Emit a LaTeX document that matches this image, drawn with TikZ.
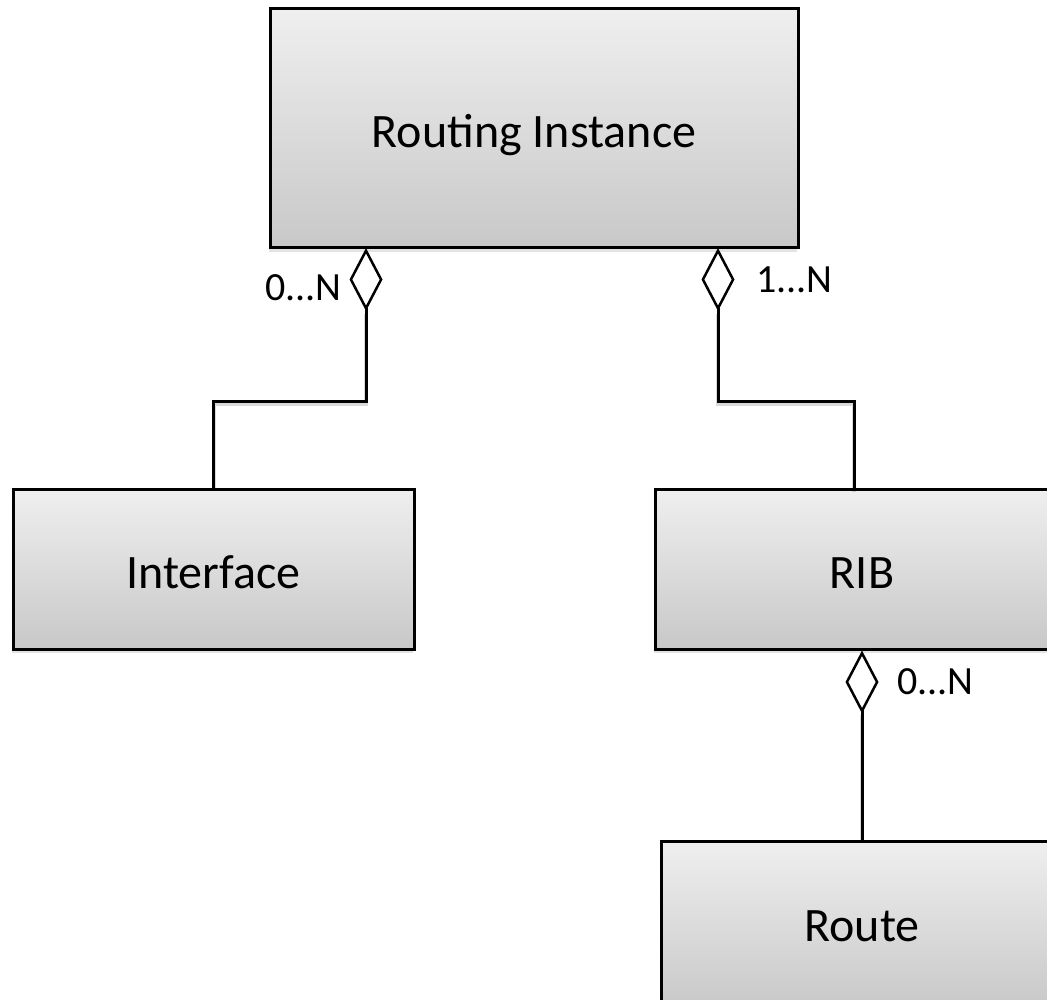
\documentclass[tikz,border=0pt]{standalone}
\usepackage{fontspec}
\setmainfont{Carlito}
\usetikzlibrary{arrows.meta,shadows}
\definecolor{gtop}{HTML}{EFEFEF}
\definecolor{gbot}{HTML}{C8C8C8}
\newcommand\captxt[2]{\raisebox{#1}[0pt][0pt]{#2}}
\begin{document}
\begin{tikzpicture}[x=1pt,y=-1pt,
  cls/.style={draw=black, line width=3pt, rectangle, inner sep=0pt,
    top color=gtop, bottom color=gbot,
    drop shadow={opacity=0.22, shadow xshift=-1pt, shadow yshift=-4pt},
    font=\fontsize{48}{58}\selectfont},
  conn/.style={draw=black, line width=3pt},
  connshadow/.style={draw=black, opacity=0.15, line width=4pt},
  agg/.style={conn, {Diamond[open, fill=white, length=63pt, width=33pt, line width=2.5pt]}-},
  mult/.style={font=\fontsize{40}{48}\selectfont, inner sep=0pt}]
\useasboundingbox (0,0) rectangle (1047,1000);
\clip (0,0) rectangle (1047,1000);
\fill[white] (0,0) rectangle (1047,1000);

\node[cls, minimum width=528pt, minimum height=239pt] (ri) at (534,128.5) {\captxt{-19.5pt}{Routing Instance}};
\node[cls, minimum width=401pt, minimum height=160pt] (ifc) at (213.5,569) {\captxt{-19pt}{Interface}};
\node[cls, minimum width=414pt, minimum height=160pt] (rib) at (862,569) {\captxt{-19.5pt}{RIB}};
\node[cls, minimum width=402pt, minimum height=168pt] (route) at (862,925) {\captxt{-16pt}{Route}};

\coordinate (ri1) at (366,248);
\coordinate (ri2) at (718,248);
\coordinate (d1) at (366,311);
\coordinate (d2) at (718,311);
\coordinate (d3) at (862,712);
\coordinate (b1) at (366,401);
\coordinate (b2) at (718,401);
\coordinate (rib1) at (854,489);

\begin{scope}[transform canvas={yshift=-3pt}]
\draw[connshadow] (d1) -- (b1) -| (ifc.north);
\draw[connshadow] (d2) -- (b2) -| (rib1);
\draw[connshadow] (d3) -- (route.north);
\end{scope}

\draw[agg] (ri1) -- (b1) -| (ifc.north);
\draw[agg] (ri2) -- (b2) -| (rib1);
\draw[agg] (rib.south) -- (route.north);

\node[mult, anchor=base east] (m1) at (342,301) {0...N};
\node[mult, anchor=base west] (m2) at (756,293) {1...N};
\node[mult, anchor=base west] (m3) at (897,694) {0...N};
\end{tikzpicture}
\end{document}
